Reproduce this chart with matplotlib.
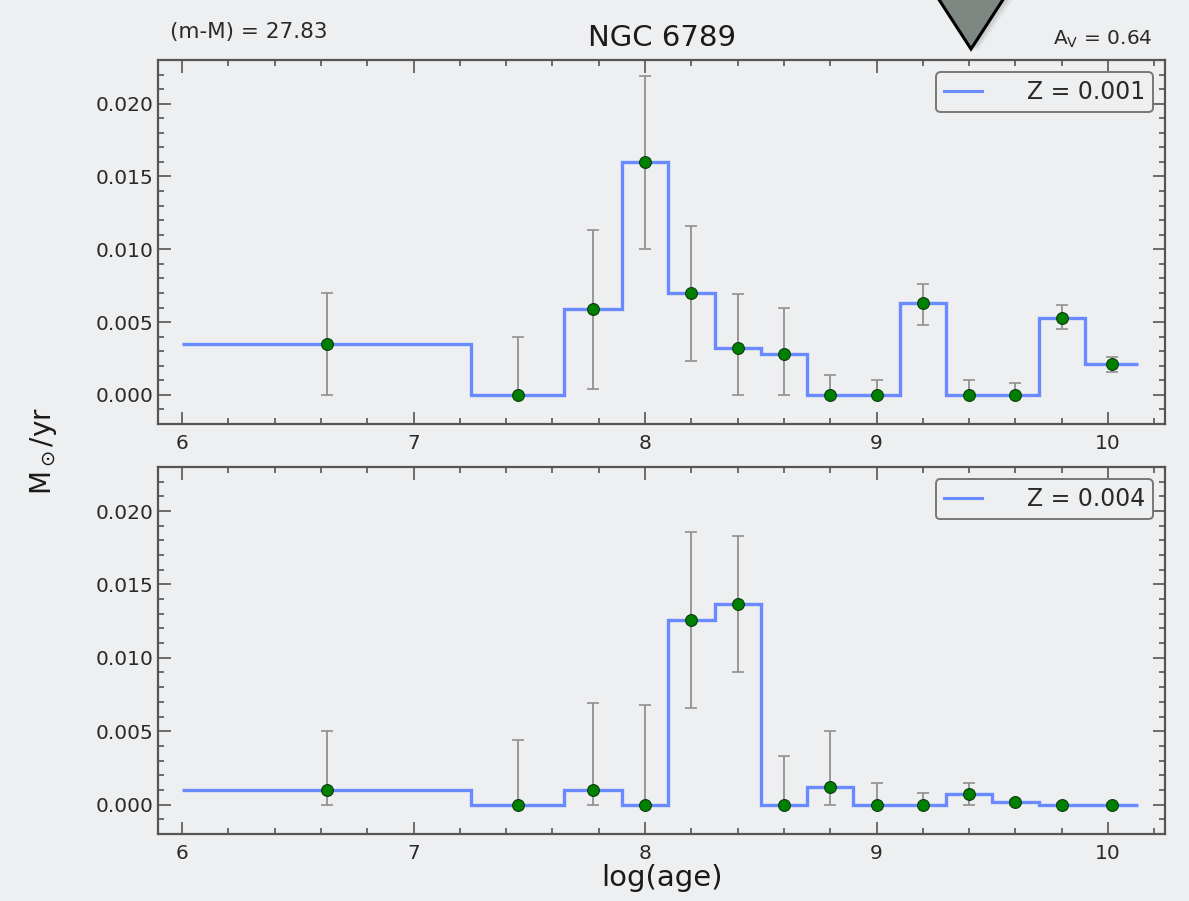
import matplotlib
matplotlib.use("Agg")
import matplotlib.pyplot as plt
from matplotlib.lines import Line2D
from matplotlib.patches import Polygon
from matplotlib.ticker import MultipleLocator, FormatStrFormatter
import numpy as np

# age bins (log yr) and the age at which each bin's point is plotted
bin_edges = [6.0, 7.25, 7.65, 7.9, 8.1, 8.3, 8.5, 8.7, 8.9, 9.1, 9.3, 9.5, 9.7, 9.9, 10.13]
log_age = [6.625, 7.45, 7.775, 8.0, 8.2, 8.4, 8.6, 8.8, 9.0, 9.2, 9.4, 9.6, 9.8, 10.015]

# star formation rate (Msun/yr), Z = 0.001
sfr_z001 = [0.0035, 0.0, 0.0059, 0.0160, 0.0070, 0.0032, 0.0028, 0.0, 0.0, 0.0063, 0.0, 0.0, 0.0053, 0.0021]
lo_z001 = [0.0, 0.0, 0.0004, 0.0100, 0.0023, 0.0, 0.0, 0.0, 0.0, 0.0048, 0.0, 0.0, 0.0045, 0.0016]
hi_z001 = [0.0070, 0.0040, 0.0113, 0.0219, 0.0116, 0.0069, 0.0060, 0.0014, 0.0010, 0.0076, 0.0010, 0.0008, 0.0062, 0.0026]

# Z = 0.004
sfr_z004 = [0.0010, 0.0, 0.0010, 0.0, 0.0126, 0.0137, 0.0, 0.0012, 0.0, 0.0, 0.0007, 0.00015, 0.0, 0.0]
lo_z004 = [0.0, 0.0, 0.0, 0.0, 0.0066, 0.0090, 0.0, 0.0, 0.0, 0.0, 0.0, 0.0, 0.0, 0.0]
hi_z004 = [0.0050, 0.0044, 0.0069, 0.0068, 0.0186, 0.0183, 0.0033, 0.0050, 0.0015, 0.0008, 0.0015, 0.0003, 0.0001, 0.0001]

BG = "#eeeff1"
STEP = "#6a8bff"
INK = "#2a2a2a"

fig = plt.figure(figsize=(11.89, 9.01), dpi=100, facecolor=BG)
ax_top = fig.add_axes([0.1329, 0.5294, 0.8469, 0.4040])
ax_bot = fig.add_axes([0.1329, 0.0744, 0.8469, 0.4073])


def draw_panel(ax, sfr, lo, hi, label):
    ax.set_facecolor(BG)
    sfr = np.array(sfr)
    yerr = [sfr - np.array(lo), np.array(hi) - sfr]
    ax.stairs(sfr, bin_edges, baseline=None, color=STEP, lw=2.4)
    ax.errorbar(log_age, sfr, yerr=yerr, fmt="none", ecolor="#909090",
                elinewidth=1.3, capsize=4.5, capthick=1.2)
    ax.plot(log_age, sfr, "o", color="#008000", mec="#0a3a0a", mew=0.8, ms=8.5, zorder=5)

    ax.set_xlim(5.896, 10.246)
    ax.set_ylim(-0.002, 0.023)
    ax.xaxis.set_major_locator(MultipleLocator(1))
    ax.xaxis.set_minor_locator(MultipleLocator(0.2))
    ax.yaxis.set_major_locator(MultipleLocator(0.005))
    ax.yaxis.set_minor_locator(MultipleLocator(0.001))
    ax.yaxis.set_major_formatter(FormatStrFormatter("%.3f"))
    ax.tick_params(which="both", direction="in", top=True, right=True,
                   colors="#555555", labelcolor=INK, labelsize=14.5, width=1.2)
    ax.tick_params(which="major", length=9)
    ax.tick_params(which="minor", length=4.5)
    ax.tick_params(axis="x", pad=7)
    for sp in ax.spines.values():
        sp.set_color("#555555")
        sp.set_linewidth(1.6)

    handle = Line2D([], [], color=STEP, lw=2.2)
    leg = ax.legend([handle], [label], loc="upper right", fontsize=17,
                    handlelength=1.6, handletextpad=1.9, borderpad=0.35,
                    borderaxespad=0.5, fancybox=True, facecolor=BG,
                    edgecolor="#777777", framealpha=1)
    leg.get_frame().set_linewidth(1.4)
    for t in leg.get_texts():
        t.set_color(INK)


draw_panel(ax_top, sfr_z001, lo_z001, hi_z001, "Z = 0.001")
draw_panel(ax_bot, sfr_z004, lo_z004, hi_z004, "Z = 0.004")

ax_top.set_title("NGC 6789", fontsize=21, color="#1a1a1a", pad=10)
fig.text(0.143, 0.964, "(m-M) = 27.83", fontsize=15.5, color=INK, ha="left", va="center")
fig.text(0.969, 0.956, r"A$_{\rm V}$ = 0.64", fontsize=14.5, color=INK, ha="right", va="center")
ax_bot.set_xlabel("log(age)", fontsize=21, color="#1a1a1a", labelpad=1)
fig.text(0.037, 0.50, r"M$_\odot$/yr", fontsize=20, color="#1a1a1a",
         rotation=90, ha="center", va="center")

# marker arrow hanging from the top edge
W, H = 1189.0, 901.0


def px(points):
    return [(x / W, 1 - y / H) for x, y in points]


for off, a in [(12, 0.05), (8, 0.08), (4, 0.10)]:
    fig.patches.append(Polygon(px([(938 + off, -5), (1004 + off, -5), (971 + off * 0.6, 50)]),
                               closed=True, transform=fig.transFigure,
                               facecolor="black", edgecolor="none", alpha=a))
fig.patches.append(Polygon(px([(936, -5), (1006, -5), (971, 49)]), closed=True,
                           transform=fig.transFigure, facecolor="#7f8782",
                           edgecolor="black", lw=2.2))

fig.savefig("out.png", facecolor=BG, dpi=100)
